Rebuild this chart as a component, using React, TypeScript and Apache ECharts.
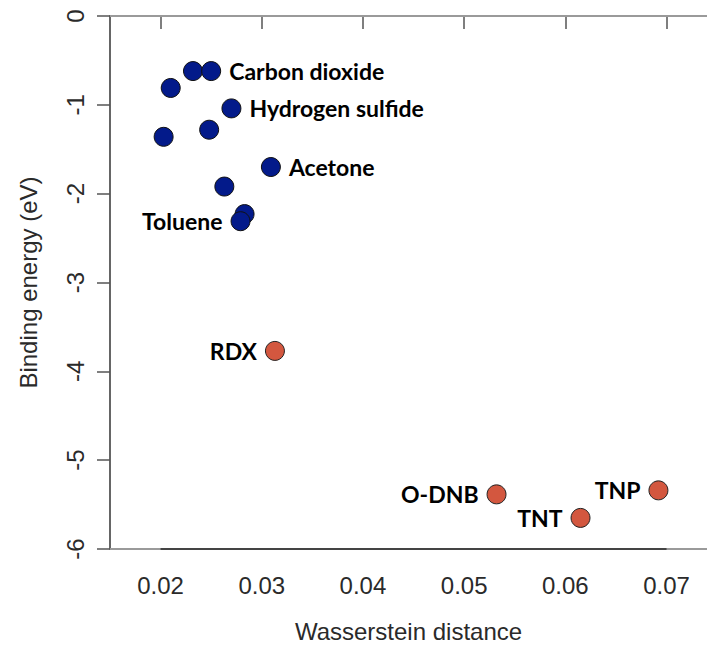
import React, { useEffect, useRef } from "react";
import * as echarts from "echarts";

// Axis ticks
const xTicks = [0.02, 0.03, 0.04, 0.05, 0.06, 0.07];
const xMin = 0.015;
const xMax = 0.074;
const yMin = -6;
const yMax = 0;
const yInterval = 1;

// Gas molecules (blue)
const gasX = [0.0232, 0.025, 0.021, 0.027, 0.0203, 0.0248, 0.0309, 0.0263, 0.0283, 0.0279];
const gasY = [-0.62, -0.62, -0.81, -1.04, -1.36, -1.28, -1.7, -1.92, -2.23, -2.31];
const gasNames = ["", "Carbon dioxide", "", "Hydrogen sulfide", "", "", "Acetone", "", "", "Toluene"];
const gasSide = ["right", "right", "right", "right", "right", "right", "right", "right", "right", "left"];

// Explosives (red)
const explX = [0.0313, 0.0532, 0.0615, 0.0692];
const explY = [-3.77, -5.385, -5.65, -5.34];
const explNames = ["RDX", "O-DNB", "TNT", "TNP"];
const explSide = ["left", "left", "left", "left"];

const labelFont = {
  fontFamily: "Lato",
  fontWeight: "bold" as const,
  fontSize: 23,
  color: "#000",
};

function buildData(xs: number[], ys: number[], names: string[], sides: string[]) {
  return xs.map((x, i) => ({
    value: [x, ys[i]],
    name: names[i],
    label: {
      show: names[i] !== "",
      position: sides[i],
      distance: 8,
      formatter: names[i],
      ...labelFont,
    },
  }));
}

export default function App() {
  const ref = useRef<HTMLDivElement>(null);
  useEffect(() => {
    document.body.style.margin = "0";
    if (!ref.current) return;
    const chart = echarts.init(ref.current, null, { renderer: "svg" });
    const axisFont = { fontFamily: "Liberation Sans", fontSize: 24, color: "#2a2a2a" };
    chart.setOption({
      animation: false,
      backgroundColor: "#fff",
      grid: { left: 110, right: 0, top: 16, bottom: 96 },
      xAxis: {
        type: "value",
        min: xMin,
        max: xMax,
        name: "Wasserstein distance",
        nameLocation: "middle",
        nameGap: 70,
        nameTextStyle: { ...axisFont },
        axisLine: { show: false },
        splitLine: { show: false },
        axisTick: {
          show: true,
          customValues: xTicks,
          length: 13,
          lineStyle: { color: "#555", width: 1.5 },
        },
        axisLabel: {
          customValues: xTicks,
          margin: 24,
          formatter: (v: number) => String(+v.toFixed(2)),
          ...axisFont,
        },
      },
      yAxis: {
        type: "value",
        min: yMin,
        max: yMax,
        interval: yInterval,
        name: "Binding energy (eV)",
        nameLocation: "middle",
        nameRotate: 90,
        nameGap: 70,
        nameTextStyle: { ...axisFont },
        axisLine: { show: true, lineStyle: { color: "#555", width: 1.8 } },
        splitLine: { show: false },
        axisTick: { show: true, length: 13, lineStyle: { color: "#555", width: 1.5 } },
        axisLabel: { rotate: 90, margin: 23, ...axisFont },
      },
      series: [
        {
          type: "scatter",
          symbolSize: 19,
          itemStyle: { color: "#031a8a", borderColor: "#111", borderWidth: 1, opacity: 1 },
          data: buildData(gasX, gasY, gasNames, gasSide),
          markLine: {
            silent: true,
            symbol: "none",
            label: { show: false },
            lineStyle: { color: "#9a9a9a", width: 1.8, type: "solid" },
            data: [{ yAxis: yMax }, { yAxis: yMin }],
          },
          z: 3,
        },
        {
          type: "scatter",
          symbolSize: 19,
          itemStyle: { color: "#d3573f", borderColor: "#222", borderWidth: 1, opacity: 1 },
          data: buildData(explX, explY, explNames, explSide),
          markLine: {
            silent: true,
            symbol: "none",
            label: { show: false },
            lineStyle: { color: "#444", width: 1.8, type: "solid" },
            data: [
              [
                { coord: [xTicks[0], yMin] },
                { coord: [xTicks[xTicks.length - 1], yMin] },
              ],
            ],
          },
          z: 3,
        },
      ],
    });
    return () => chart.dispose();
  }, []);
  return <div ref={ref} style={{ width: 707, height: 648 }} />;
}
